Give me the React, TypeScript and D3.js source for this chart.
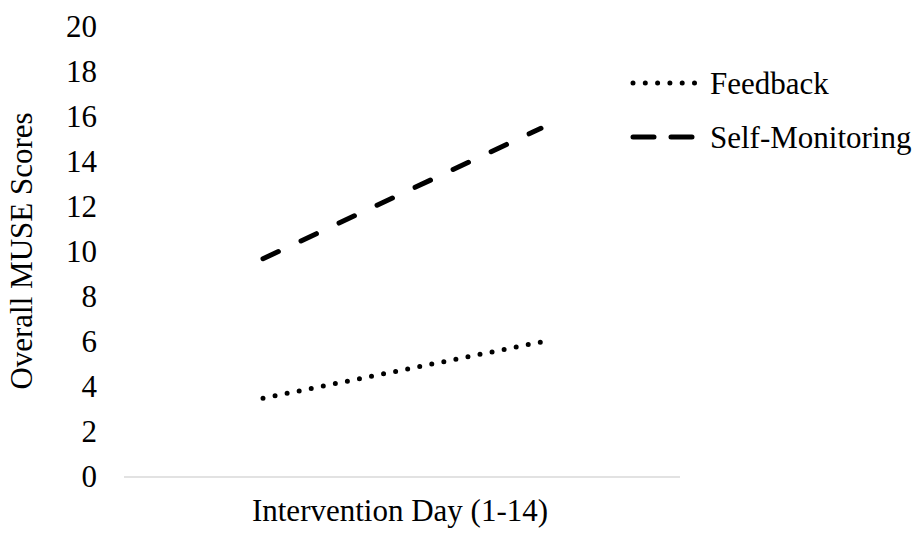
import * as d3 from 'd3'

const days = ['Day 1', 'Day 14']
const feedback = [3.5, 6.0]
const selfMonitoring = [9.7, 15.5]
const yTicks = [0, 2, 4, 6, 8, 10, 12, 14, 16, 18, 20]

const FONT = 'Liberation Serif'
const W = 918
const H = 536
const plot = { left: 124, right: 680, top: 27, bottom: 477 }

const x = d3.scaleBand<string>().domain(days).range([plot.left, plot.right])
const y = d3.scaleLinear().domain([0, 20]).range([plot.bottom, plot.top])

const line = d3
  .line<number>()
  .x((_, i) => (x(days[i]) ?? 0) + x.bandwidth() / 2)
  .y((d) => y(d))

const series = [
  { name: 'Feedback', values: feedback, dash: '0 12.3', legendDash: '0 12.3', ly: 83 },
  { name: 'Self-Monitoring', values: selfMonitoring, dash: '17 25', legendDash: '21 17', ly: 137 },
]

export default function App() {
  return (
    <svg
      width={W}
      height={H}
      viewBox={`0 0 ${W} ${H}`}
      style={{ position: 'absolute', left: 0, top: 0, background: '#fff', fontFamily: FONT }}
      role="img"
    >
      {/* y tick labels, no axis line */}
      {yTicks.map((t) => (
        <text key={t} x={97} y={y(t)} dy="0.33em" textAnchor="end" fontSize={31} fill="#000" style={{ fontFamily: FONT }}>
          {d3.format('d')(t)}
        </text>
      ))}

      {/* category baseline */}
      <line x1={plot.left} x2={plot.right} y1={y(0)} y2={y(0)} stroke="#d9d9d9" strokeWidth={1.5} />

      {series.map((s) => (
        <path
          key={s.name}
          d={line(s.values) ?? ''}
          fill="none"
          stroke="#000"
          strokeWidth={5}
          strokeLinecap="round"
          strokeDasharray={s.dash}
        />
      ))}

      {/* legend */}
      {series.map((s) => (
        <g key={s.name}>
          <line
            x1={633}
            x2={696}
            y1={s.ly}
            y2={s.ly}
            stroke="#000"
            strokeWidth={5}
            strokeLinecap="round"
            strokeDasharray={s.legendDash}
          />
          <text x={710} y={s.ly + 11} fontSize={31} fill="#000" style={{ fontFamily: FONT }}>
            {s.name}
          </text>
        </g>
      ))}

      <text
        x={(plot.left + plot.right) / 2 - 2}
        y={521}
        textAnchor="middle"
        fontSize={31}
        fill="#000"
        style={{ fontFamily: FONT }}
      >
        Intervention Day (1-14)
      </text>
      <text
        transform="rotate(-90)"
        x={-251}
        y={32}
        textAnchor="middle"
        fontSize={31}
        fill="#000"
        style={{ fontFamily: FONT }}
      >
        Overall MUSE Scores
      </text>
    </svg>
  )
}
